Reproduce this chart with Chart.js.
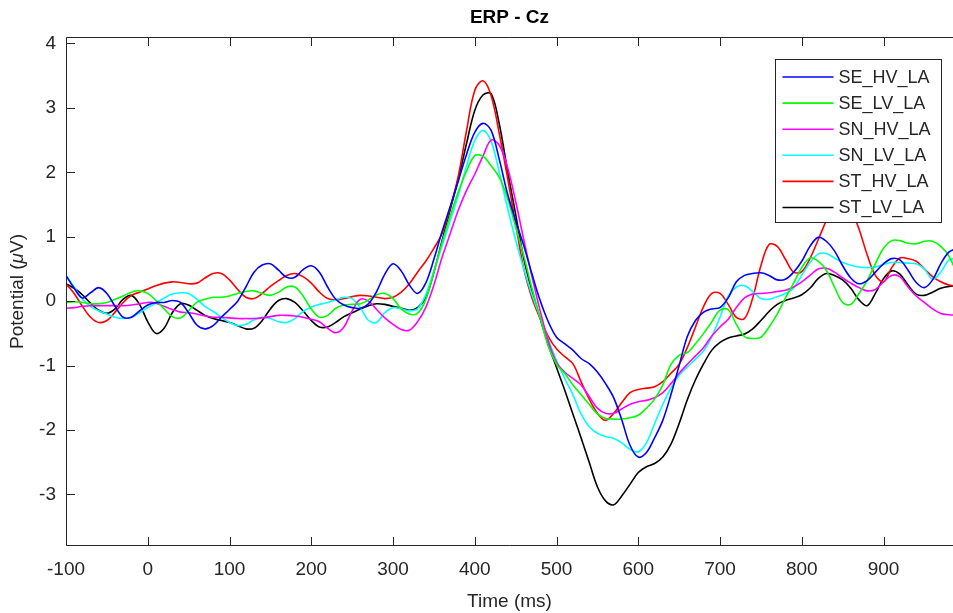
<!DOCTYPE html>
<html><head><meta charset="utf-8">
<script src="https://cdn.jsdelivr.net/npm/chart.js@4.4.1/dist/chart.umd.min.js"></script>
<style>html,body{margin:0;padding:0;background:#fff;overflow:hidden}canvas{display:block}</style>
</head><body>
<canvas id="c" width="953" height="613"></canvas>
<script>
const chartTitle = 'ERP - Cz';
const xAxisLabel = 'Time (ms)';
const yAxisLabelParts = ['Potential (', 'μ', 'V)'];
const seriesNames = ['SE_HV_LA','SE_LV_LA','SN_HV_LA','SN_LV_LA','ST_HV_LA','ST_LV_LA'];
const seriesColors = ['#0000ff','#00ff00','#ff00ff','#00ffff','#ff0000','#000000'];
const xTicks = [-100,0,100,200,300,400,500,600,700,800,900];
const yTicks = [-3,-2,-1,0,1,2,3,4];

const times = [-100,-90,-80,-70,-60,-50,-40,-30,-20,-10,
0,10,20,30,40,50,60,70,80,90,
100,110,120,130,140,150,160,170,180,190,
200,210,220,230,240,250,260,270,280,290,
300,310,320,330,340,350,360,370,380,390,
400,410,420,430,440,450,460,470,480,490,
500,510,520,530,540,550,560,570,580,590,
600,610,620,630,640,650,660,670,680,690,
700,710,720,730,740,750,760,770,780,790,
800,810,820,830,840,850,860,870,880,890,
900,910,920,930,940,950,960,970,980,990];

const SE_HV_LA = [0.40,0.20,0.05,0.13,0.21,0.12,-0.08,-0.25,-0.25,-0.15,
-0.06,-0.02,-0.02,0.01,-0.02,-0.18,-0.37,-0.43,-0.38,-0.25,
-0.13,0.00,0.22,0.45,0.56,0.58,0.48,0.37,0.37,0.49,
0.55,0.45,0.22,0.03,-0.06,-0.10,-0.11,-0.04,0.15,0.42,
0.58,0.47,0.25,0.12,0.28,0.65,1.08,1.47,1.87,2.28,
2.62,2.76,2.65,2.20,1.67,1.25,0.86,0.42,0.01,-0.32,
-0.56,-0.66,-0.76,-0.89,-0.97,-1.10,-1.28,-1.50,-1.85,-2.24,
-2.42,-2.35,-2.12,-1.85,-1.45,-1.00,-0.55,-0.30,-0.17,-0.12,
-0.10,0.05,0.30,0.40,0.43,0.44,0.40,0.33,0.34,0.45,
0.62,0.85,0.99,0.93,0.78,0.55,0.36,0.27,0.32,0.45,
0.58,0.66,0.64,0.48,0.29,0.21,0.33,0.58,0.76,0.82];

const SE_LV_LA = [-0.02,-0.01,-0.02,-0.04,-0.04,-0.02,0.03,0.08,0.14,0.16,
0.12,0.01,-0.12,-0.24,-0.26,-0.15,-0.02,0.03,0.06,0.06,
0.08,0.12,0.15,0.16,0.12,0.09,0.14,0.22,0.22,0.08,
-0.12,-0.25,-0.22,-0.11,-0.06,-0.05,-0.04,0.02,0.10,0.12,
0.04,-0.12,-0.20,-0.19,0.02,0.45,0.91,1.32,1.70,2.02,
2.26,2.25,2.10,1.92,1.60,1.15,0.70,0.20,-0.25,-0.70,
-0.98,-1.12,-1.30,-1.45,-1.60,-1.75,-1.82,-1.83,-1.83,-1.81,
-1.77,-1.66,-1.52,-1.30,-0.98,-0.84,-0.80,-0.66,-0.50,-0.32,
-0.14,-0.13,-0.36,-0.55,-0.58,-0.56,-0.40,-0.20,0.05,0.28,
0.52,0.67,0.62,0.48,0.22,-0.02,-0.05,0.12,0.32,0.58,
0.82,0.94,0.94,0.90,0.89,0.93,0.93,0.85,0.70,0.42];

const SN_HV_LA = [-0.11,-0.10,-0.08,-0.07,-0.07,-0.07,-0.07,-0.07,-0.06,-0.04,
-0.02,-0.03,-0.08,-0.13,-0.17,-0.18,-0.20,-0.23,-0.25,-0.25,
-0.26,-0.27,-0.27,-0.27,-0.26,-0.24,-0.22,-0.22,-0.23,-0.25,
-0.28,-0.32,-0.42,-0.49,-0.40,-0.15,0.03,0.00,-0.13,-0.26,
-0.36,-0.44,-0.45,-0.32,-0.10,0.25,0.68,1.05,1.42,1.72,
1.97,2.25,2.50,2.42,2.08,1.55,0.95,0.38,-0.15,-0.62,
-0.95,-1.10,-1.20,-1.30,-1.48,-1.66,-1.74,-1.74,-1.67,-1.60,
-1.56,-1.54,-1.50,-1.42,-1.28,-1.12,-0.98,-0.85,-0.72,-0.54,
-0.40,-0.28,-0.10,0.05,0.11,0.12,0.13,0.15,0.17,0.22,
0.30,0.40,0.50,0.51,0.45,0.36,0.28,0.21,0.16,0.18,
0.30,0.40,0.38,0.22,0.08,-0.02,-0.12,-0.19,-0.21,-0.22];

const SN_LV_LA = [0.40,0.22,0.03,-0.08,-0.15,-0.20,-0.25,-0.27,-0.25,-0.18,
-0.10,-0.03,0.05,0.11,0.13,0.12,0.03,-0.08,-0.16,-0.25,
-0.33,-0.38,-0.36,-0.29,-0.25,-0.27,-0.32,-0.33,-0.27,-0.16,
-0.09,-0.05,-0.02,0.02,0.06,0.04,-0.10,-0.30,-0.33,-0.18,
-0.10,-0.12,-0.15,-0.12,0.10,0.47,0.86,1.25,1.65,2.10,
2.49,2.65,2.48,2.00,1.45,0.95,0.50,0.10,-0.25,-0.60,
-0.92,-1.20,-1.45,-1.75,-1.95,-2.05,-2.10,-2.13,-2.20,-2.30,
-2.34,-2.20,-1.90,-1.60,-1.35,-1.15,-1.02,-0.90,-0.77,-0.55,
-0.25,0.08,0.22,0.24,0.15,0.04,0.03,0.07,0.12,0.20,
0.40,0.60,0.73,0.74,0.67,0.60,0.56,0.53,0.52,0.53,
0.57,0.60,0.60,0.59,0.58,0.50,0.34,0.45,0.64,0.66];

const ST_HV_LA = [0.27,0.12,-0.08,-0.25,-0.33,-0.30,-0.17,-0.02,0.09,0.14,
0.19,0.24,0.28,0.30,0.29,0.27,0.28,0.36,0.43,0.43,
0.33,0.18,0.06,0.04,0.12,0.23,0.32,0.40,0.43,0.38,
0.28,0.14,0.04,0.02,0.04,0.07,0.09,0.08,0.06,0.04,
0.06,0.14,0.27,0.45,0.62,0.82,1.05,1.45,1.95,2.65,
3.27,3.42,3.19,2.60,1.92,1.20,0.50,0.05,-0.27,-0.55,
-0.74,-0.86,-0.97,-1.25,-1.52,-1.74,-1.85,-1.74,-1.57,-1.42,
-1.37,-1.35,-1.33,-1.25,-1.12,-0.98,-0.72,-0.40,-0.08,0.12,
0.12,-0.05,-0.25,-0.27,0.05,0.55,0.88,0.85,0.65,0.45,
0.46,0.66,0.95,1.25,1.50,1.58,1.42,1.12,0.72,0.40,
0.30,0.52,0.67,0.66,0.62,0.50,0.38,0.30,0.25,0.23];

const ST_LV_LA = [0.27,0.20,0.10,-0.03,-0.14,-0.19,-0.12,0.03,0.09,-0.05,
-0.32,-0.50,-0.42,-0.18,-0.04,-0.06,-0.14,-0.22,-0.27,-0.30,
-0.33,-0.38,-0.43,-0.42,-0.30,-0.12,0.01,0.04,-0.02,-0.15,
-0.30,-0.40,-0.40,-0.33,-0.24,-0.18,-0.12,-0.07,-0.04,-0.05,
-0.08,-0.11,-0.14,-0.10,0.05,0.45,0.94,1.42,1.90,2.45,
2.96,3.20,3.22,2.75,2.03,1.35,0.66,0.15,-0.27,-0.68,
-1.03,-1.38,-1.75,-2.12,-2.50,-2.88,-3.10,-3.16,-3.02,-2.84,
-2.66,-2.57,-2.52,-2.42,-2.22,-1.90,-1.53,-1.22,-0.97,-0.76,
-0.64,-0.57,-0.54,-0.51,-0.43,-0.30,-0.16,-0.05,0.01,0.05,
0.10,0.20,0.35,0.43,0.40,0.33,0.20,0.02,-0.07,0.12,
0.35,0.47,0.42,0.25,0.11,0.09,0.14,0.20,0.23,0.24];

const seriesValues = [SE_HV_LA, SE_LV_LA, SN_HV_LA, SN_LV_LA, ST_HV_LA, ST_LV_LA];

const FONT = '"Liberation Sans", Arial, Helvetica, sans-serif';
const AXIS_COLOR = '#262626';

const datasets = seriesNames.map((name, i) => ({
  label: name,
  data: times.map((t, k) => ({x: t, y: seriesValues[i][k]})),
  borderColor: seriesColors[i],
  backgroundColor: seriesColors[i],
  borderWidth: 1.6,
  pointRadius: 0,
  tension: 0.35,
  fill: false
}));

const boxPlugin = {
  id: 'matlabBox',
  afterDatasetsDraw(chart) {
    const {ctx, chartArea: a, scales: {x, y}} = chart;
    ctx.save();
    ctx.strokeStyle = AXIS_COLOR;
    ctx.lineWidth = 1;
    const L = Math.round(a.left) + 0.5, T = Math.round(a.top) + 0.5, B = Math.round(a.bottom) - 0.5;
    ctx.beginPath();
    ctx.moveTo(a.right, T); ctx.lineTo(L, T); ctx.lineTo(L, B); ctx.lineTo(a.right, B);
    const tl = 8.5;
    xTicks.forEach(v => {
      const px = Math.round(x.getPixelForValue(v)) + 0.5;
      ctx.moveTo(px, B); ctx.lineTo(px, B - tl);
      ctx.moveTo(px, T); ctx.lineTo(px, T + tl);
    });
    yTicks.forEach(v => {
      const py = Math.round(y.getPixelForValue(v)) + 0.5;
      ctx.moveTo(L, py); ctx.lineTo(L + tl, py);
    });
    ctx.stroke();

    // title
    ctx.fillStyle = '#000';
    ctx.font = 'bold 19px ' + FONT;
    ctx.textAlign = 'center';
    ctx.textBaseline = 'middle';
    ctx.fillText(chartTitle, (a.left + a.right) / 2, 18);

    // y-axis label with italic mu
    ctx.save();
    ctx.translate(18, (a.top + a.bottom) / 2);
    ctx.rotate(-Math.PI / 2);
    ctx.fillStyle = AXIS_COLOR;
    ctx.textAlign = 'left';
    ctx.textBaseline = 'middle';
    const fonts = ['19px ' + FONT, 'italic 19px ' + FONT, '19px ' + FONT];
    let total = 0;
    yAxisLabelParts.forEach((p, i) => { ctx.font = fonts[i]; total += ctx.measureText(p).width; });
    let cx = -total / 2;
    yAxisLabelParts.forEach((p, i) => { ctx.font = fonts[i]; ctx.fillText(p, cx, 0); cx += ctx.measureText(p).width; });
    ctx.restore();

    // legend
    const bx = Math.round(a.right - 178) + 0.5, by = Math.round(a.top + 22) + 0.5;
    const bw = 166, bh = 163;
    ctx.fillStyle = '#fff';
    ctx.fillRect(bx, by, bw, bh);
    ctx.strokeStyle = AXIS_COLOR;
    ctx.lineWidth = 1;
    ctx.strokeRect(bx, by, bw, bh);
    ctx.font = '18px ' + FONT;
    ctx.textAlign = 'left';
    ctx.textBaseline = 'middle';
    seriesNames.forEach((name, i) => {
      const cy = by + 17.5 + i * 26.1;
      ctx.strokeStyle = seriesColors[i];
      ctx.lineWidth = 1.6;
      ctx.beginPath();
      ctx.moveTo(bx + 7, cy); ctx.lineTo(bx + 58, cy);
      ctx.stroke();
      ctx.fillStyle = AXIS_COLOR;
      ctx.fillText(name, bx + 63, cy + 1);
    });
    ctx.restore();
  }
};

new Chart(document.getElementById('c'), {
  type: 'line',
  data: { datasets },
  plugins: [boxPlugin],
  options: {
    responsive: false,
    animation: false,
    devicePixelRatio: 1,
    layout: { padding: { top: 37, right: 0, left: 0, bottom: 0 } },
    plugins: { legend: { display: false }, title: { display: false }, tooltip: { enabled: false } },
    scales: {
      x: {
        type: 'linear',
        min: -100, max: 985,
        afterFit(s) { s.height = 67; },
        grid: { display: false, drawTicks: false },
        border: { display: false },
        ticks: {
          stepSize: 100, includeBounds: false, autoSkip: false, maxRotation: 0,
          padding: 12, color: AXIS_COLOR, font: { family: FONT, size: 19 },
          callback: v => xTicks.includes(v) ? String(v) : ''
        },
        title: { display: true, text: xAxisLabel, color: AXIS_COLOR, font: { family: FONT, size: 19 }, padding: { top: 0, bottom: 0 } }
      },
      y: {
        type: 'linear',
        min: -3.8, max: 4.1,
        afterFit(s) { s.width = 66; },
        grid: { display: false, drawTicks: false },
        border: { display: false },
        ticks: {
          stepSize: 1, includeBounds: false, padding: 10, color: AXIS_COLOR,
          font: { family: FONT, size: 19 },
          callback: v => yTicks.includes(v) ? String(v) : ''
        },
        title: { display: false }
      }
    }
  }
});
</script>
</body></html>
